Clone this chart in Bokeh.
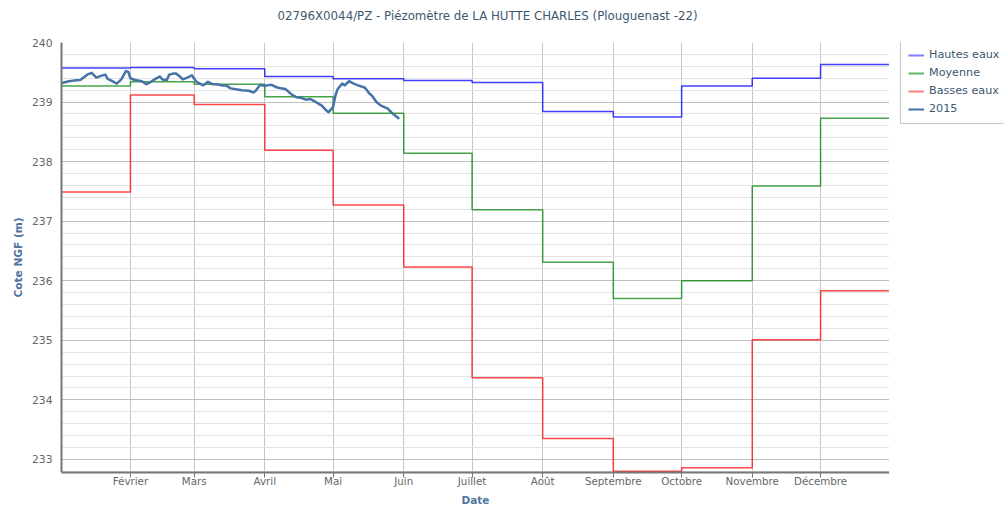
import pandas as pd
from bokeh.plotting import figure
from bokeh.layouts import row
from bokeh.models import Range1d, FixedTicker, SingleIntervalTicker, Legend, LegendItem, Title
from bokeh.embed import file_html
from bokeh.resources import INLINE

# ---------------- data ----------------
month_starts = ["2015-01-01", "2015-02-01", "2015-03-01", "2015-04-01", "2015-05-01", "2015-06-01",
                "2015-07-01", "2015-08-01", "2015-09-01", "2015-10-01", "2015-11-01", "2015-12-01"]
year_end = "2016-01-01"
month_labels = ["Janvier", "Février", "Mars", "Avril", "Mai", "Juin", "Juillet", "Août",
                "Septembre", "Octobre", "Novembre", "Décembre"]
series_names = ["Hautes eaux", "Moyenne", "Basses eaux", "2015"]

hautes_eaux = [239.57, 239.58, 239.56, 239.43, 239.39, 239.36, 239.33, 238.84, 238.75, 239.27, 239.40, 239.63]
moyenne = [239.27, 239.34, 239.30, 239.09, 238.81, 238.14, 237.19, 236.31, 235.70, 236.00, 237.59, 238.73]
basses_eaux = [237.49, 239.12, 238.96, 238.19, 237.27, 236.23, 234.37, 233.35, 232.80, 232.86, 235.01, 235.83]

dates_2015 = ["2015-01-02", "2015-01-05", "2015-01-07", "2015-01-10", "2015-01-11", "2015-01-13", "2015-01-15",
              "2015-01-17", "2015-01-19", "2015-01-21", "2015-01-22", "2015-01-24", "2015-01-26", "2015-01-28",
              "2015-01-30", "2015-01-31", "2015-02-01", "2015-02-03", "2015-02-06", "2015-02-08", "2015-02-10",
              "2015-02-12", "2015-02-14", "2015-02-15", "2015-02-17", "2015-02-18", "2015-02-20", "2015-02-21",
              "2015-02-23", "2015-02-24", "2015-02-26", "2015-02-28", "2015-03-01", "2015-03-02", "2015-03-05",
              "2015-03-07", "2015-03-09", "2015-03-11", "2015-03-13", "2015-03-15", "2015-03-17", "2015-03-20",
              "2015-03-22", "2015-03-25", "2015-03-27", "2015-03-28", "2015-03-30", "2015-04-01", "2015-04-02",
              "2015-04-04", "2015-04-06", "2015-04-08", "2015-04-10", "2015-04-13", "2015-04-15", "2015-04-17",
              "2015-04-19", "2015-04-21", "2015-04-23", "2015-04-26", "2015-04-28", "2015-04-29", "2015-05-01",
              "2015-05-02", "2015-05-03", "2015-05-05", "2015-05-06", "2015-05-08", "2015-05-10", "2015-05-12",
              "2015-05-15", "2015-05-17", "2015-05-18", "2015-05-20", "2015-05-22", "2015-05-25", "2015-05-27",
              "2015-05-30"]
niveau_2015 = [239.32, 239.35, 239.36, 239.37, 239.40, 239.46, 239.49,
               239.41, 239.44, 239.46, 239.39, 239.35, 239.31, 239.38,
               239.52, 239.51, 239.40, 239.37, 239.35, 239.30, 239.34,
               239.39, 239.43, 239.38, 239.37, 239.46, 239.48, 239.48,
               239.42, 239.38, 239.41, 239.45, 239.39, 239.34, 239.28,
               239.34, 239.30, 239.30, 239.28, 239.28, 239.23, 239.21,
               239.20, 239.19, 239.16, 239.19, 239.29, 239.27, 239.28,
               239.29, 239.25, 239.23, 239.22, 239.12, 239.08, 239.07,
               239.04, 239.05, 239.01, 238.94, 238.86, 238.83, 238.92,
               239.11, 239.22, 239.31, 239.28, 239.35, 239.31, 239.28,
               239.24, 239.14, 239.11, 239.00, 238.94, 238.89, 238.81,
               238.72]

# ---------------- helpers ----------------
origin = pd.Timestamp("2015-01-01")


def day(s):
    return float((pd.Timestamp(s) - origin).days)


step_x = [day(d) for d in month_starts] + [day(year_end)]


def step_y(vals):
    return list(vals) + [vals[-1]]


x_2015 = [day(d) for d in dates_2015]

FONT = "DejaVu Sans"
C_HAUT, C_MOY, C_BAS, C_2015 = "#0000ff", "#008000", "#ff0000", "#4572A7"

# ---------------- main chart ----------------
p = figure(width=889, height=508, output_backend="svg", toolbar_location=None,
           x_range=Range1d(0.74, 364.26), y_range=Range1d(232.78, 240.0),
           min_border_left=61, min_border_right=0, min_border_top=42, min_border_bottom=35)
p.outline_line_color = None
p.background_fill_color = "white"
p.border_fill_color = "white"

# real title (outer), with an empty spacer title between it and the frame
p.title.text = "02796X0044/PZ - Piézomètre de LA HUTTE CHARLES (Plouguenast -22)"
p.title.align = "left"
p.title.offset = 216
p.title.vertical_align = "top"
p.title.standoff = 0
p.title.text_font = FONT
p.title.text_font_size = "11.8px"
p.title.text_font_style = "normal"
p.title.text_color = "#3E576F"

spacer = Title(text=" ", text_font_size="1px", standoff=15)
p.add_layout(spacer, "above")

# series
p.step(step_x, step_y(hautes_eaux), mode="after", line_color=C_HAUT, line_alpha=0.75, line_width=1.5)
p.step(step_x, step_y(moyenne), mode="after", line_color=C_MOY, line_alpha=0.72, line_width=1.5)
p.step(step_x, step_y(basses_eaux), mode="after", line_color=C_BAS, line_alpha=0.72, line_width=1.5)
p.line(x_2015, niveau_2015, line_color=C_2015, line_width=2.5, line_join="round")

# x axis
ticks = [day(d) for d in month_starts[1:]]
p.xaxis.ticker = FixedTicker(ticks=ticks)
p.xaxis.major_label_overrides = {int(t): lab for t, lab in zip(ticks, month_labels[1:])}
p.xaxis.axis_label = "Date"
p.xaxis.axis_label_text_font = FONT
p.xaxis.axis_label_text_font_size = "10.5px"
p.xaxis.axis_label_text_font_style = "bold"
p.xaxis.axis_label_text_color = "#4d759e"
p.xaxis.axis_label_standoff = 4
p.xaxis.major_label_text_font = FONT
p.xaxis.major_label_text_font_size = "10.3px"
p.xaxis.major_label_text_color = "#666666"
p.xaxis.major_label_standoff = -3
p.xaxis.major_tick_out = 5
p.xaxis.major_tick_in = 0
p.xaxis.minor_tick_out = 0
p.xaxis.minor_tick_in = 0
p.xaxis.major_tick_line_color = "#777777"
p.xaxis.axis_line_color = "#777777"
p.xaxis.axis_line_width = 2

# y axis
p.yaxis.ticker = SingleIntervalTicker(interval=1, num_minor_ticks=5)
p.yaxis.axis_label = "Cote NGF (m)"
p.yaxis.axis_label_text_font = FONT
p.yaxis.axis_label_text_font_size = "10.6px"
p.yaxis.axis_label_text_font_style = "bold"
p.yaxis.axis_label_text_color = "#4d759e"
p.yaxis.axis_label_standoff = 5
p.yaxis.major_label_text_font = FONT
p.yaxis.major_label_text_font_size = "10.8px"
p.yaxis.major_label_text_color = "#666666"
p.yaxis.major_label_standoff = 9
p.yaxis.major_tick_out = 0
p.yaxis.major_tick_in = 0
p.yaxis.minor_tick_out = 0
p.yaxis.minor_tick_in = 0
p.yaxis.axis_line_color = "#777777"
p.yaxis.axis_line_width = 2

# grids
p.xgrid.grid_line_color = "#c8c8c8"
p.ygrid.grid_line_color = "#c0c0c0"
p.ygrid.minor_grid_line_color = "#e3e3e3"

# ---------------- legend panel (right of the chart) ----------------
pl = figure(width=115, height=508, output_backend="svg", toolbar_location=None,
            x_range=Range1d(0, 1), y_range=Range1d(0, 1),
            x_axis_location=None, y_axis_location=None,
            min_border_left=0, min_border_right=0, min_border_top=0, min_border_bottom=0)
pl.title = None
pl.outline_line_color = None
pl.grid.visible = False
pl.border_fill_color = "white"
pl.background_fill_color = "white"

nan = float("nan")
lg_h = pl.line(x=[nan], y=[nan], line_color=C_HAUT, line_alpha=0.5, line_width=2)
lg_m = pl.line(x=[nan], y=[nan], line_color=C_MOY, line_alpha=0.6, line_width=2)
lg_b = pl.line(x=[nan], y=[nan], line_color=C_BAS, line_alpha=0.5, line_width=2)
lg_y = pl.line(x=[nan], y=[nan], line_color=C_2015, line_alpha=1.0, line_width=2)

legend = Legend(items=[LegendItem(label=n, renderers=[r]) for n, r in
                       zip(series_names, [lg_h, lg_m, lg_b, lg_y])],
                location=(11, 348.5), orientation="vertical",
                border_line_color="#909090", border_line_width=1,
                background_fill_color="white", background_fill_alpha=1.0,
                padding=7, spacing=4, margin=0,
                glyph_width=16, glyph_height=14, label_height=14, label_standoff=5,
                label_text_font=FONT, label_text_font_size="11.2px", label_text_color="#3E576F")
pl.add_layout(legend, "center")

layout = row(p, pl)
open("out.html", "w").write(file_html(layout, INLINE))
